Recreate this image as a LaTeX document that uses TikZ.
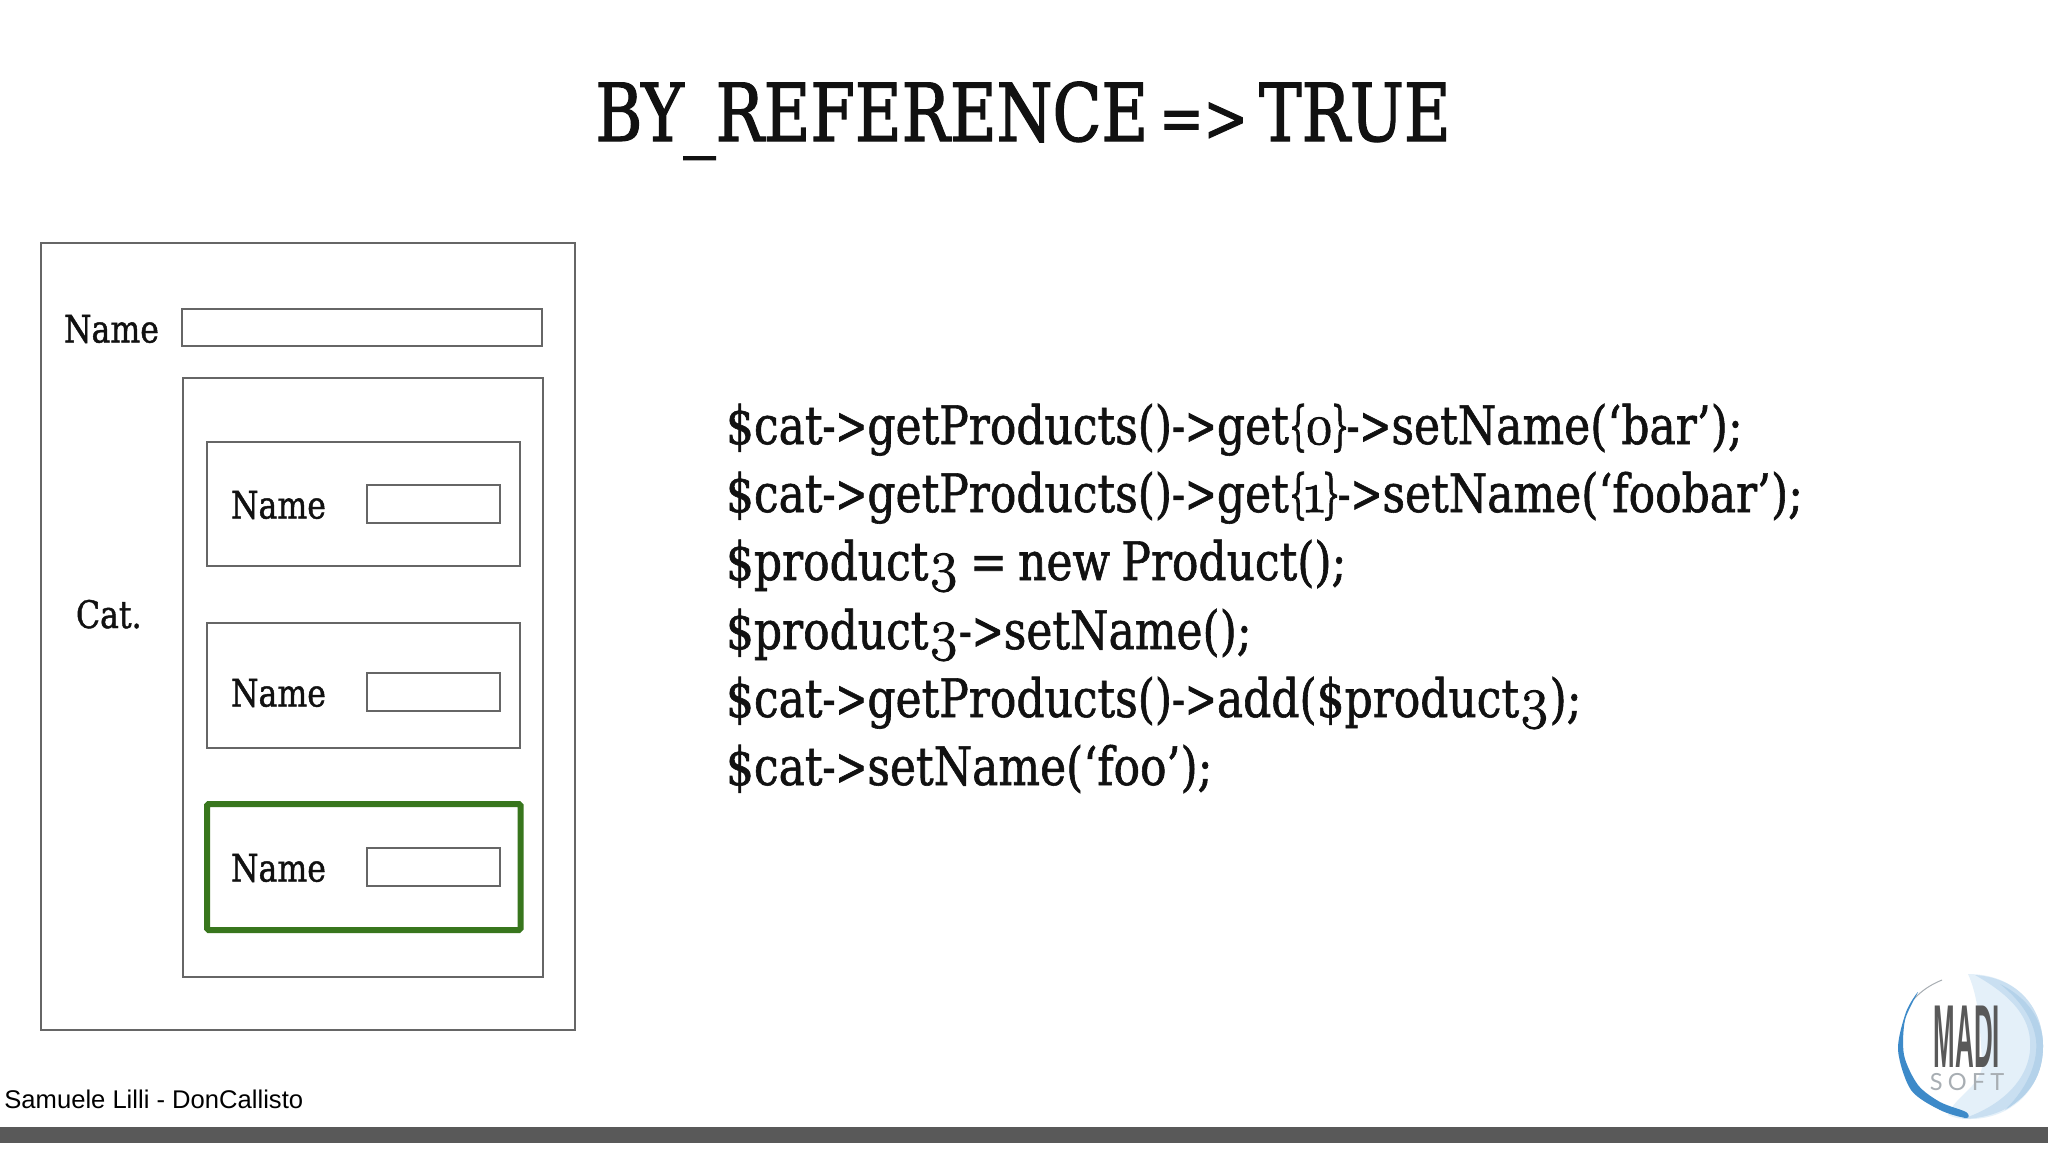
\documentclass[tikz,border=0pt]{standalone}
\usepackage{fontspec}
\setmainfont{DejaVu Serif}[FakeStretch=0.83,FakeBold=1.1,WordSpace=0.8]
\newfontfamily\titlefont{DejaVu Serif}[FakeStretch=0.8,FakeBold=1.5,WordSpace=0.55]
\newfontfamily\narrowfont{DejaVu Serif}[FakeStretch=0.55,FakeBold=1.1]
\newfontfamily\arrowfont{DejaVu Serif}[FakeStretch=0.72,FakeBold=1.1]
\newfontfamily\oldnum{Latin Modern Roman}[Numbers=OldStyle,FakeBold=2,Scale=1.08]
\newfontfamily\footfont{Liberation Sans}
\newfontfamily\logofont{Liberation Sans}
\newfontfamily\softfont{Lato}[LetterSpace=22]
\newcommand{\Lbr}{{\narrowfont\{}\kern-1.6pt}
\newcommand{\Rbr}{\kern-1.6pt{\narrowfont\}}\kern-1.4pt}
\newcommand{\Arr}{{\arrowfont->}}
\definecolor{linegray}{HTML}{666666}
\definecolor{greenbox}{HTML}{38761D}
\definecolor{barcol}{HTML}{595959}
\definecolor{inkcol}{HTML}{111111}
\definecolor{washa}{HTML}{C9DFF1}
\definecolor{washb}{HTML}{E4F0F9}
\definecolor{washc}{HTML}{B4D2EA}
\definecolor{brush}{HTML}{3D8AC9}
\definecolor{softgray}{HTML}{A8AEB3}
\tikzset{
  x=0.5pt,y=-0.5pt,
  box/.style={draw=linegray,line width=1pt,fill=none},
  greenrect/.style={draw=greenbox,line width=3pt,rounded corners=0.8pt},
  lab/.style={anchor=base west,inner sep=0pt,outer sep=0pt,text=inkcol,font=\fontsize{19}{22}\selectfont},
  codeline/.style={anchor=base west,inner sep=0pt,outer sep=0pt,text=inkcol,font=\fontsize{26.5}{30}\selectfont},
}
\begin{document}
\begin{tikzpicture}
\useasboundingbox (0,0) rectangle (2048,1152);
\fill[white] (0,0) rectangle (2048,1152);
\node[anchor=base west,inner sep=0pt,text=inkcol,font=\titlefont\fontsize{40}{46}\selectfont] (title) at (595,141) {BY\_REFERENCE {\fontsize{33}{40}\selectfont =>} TRUE};
\draw[box] (40.5,243) rectangle (575,1030);
\draw[box] (181.5,308.5) rectangle (542,346);
\draw[box] (183,377.5) rectangle (543,977);
\draw[box] (206.5,441.5) rectangle (520,566);
\draw[box] (367,484.5) rectangle (500,523);
\draw[box] (206.5,622.5) rectangle (520,748);
\draw[box] (367,672.5) rectangle (500,711);
\draw[greenrect] (207,804) rectangle (520.5,930);
\draw[box] (367,848) rectangle (500,886);
\node[lab] (n0) at (64,342.5) {Name};
\node[lab] (n1) at (231,518.5) {Name};
\node[lab] (n2) at (231,706.5) {Name};
\node[lab] (n3) at (231,881.5) {Name};
\node[lab] (cat) at (76,628) {Cat.};
\node[codeline] (c1) at (726,444) {\$cat\Arr getProducts()\Arr get\Lbr{\oldnum 0}\Rbr\Arr setName(‘bar’);};
\node[codeline] (c2) at (726,512) {\$cat\Arr getProducts()\Arr get\Lbr{\oldnum 1}\Rbr\Arr setName(‘foobar’);};
\node[codeline] (c3) at (726,580) {\$product{\oldnum 3} = new Product();};
\node[codeline] (c4) at (726,649) {\$product{\oldnum 3}\Arr setName();};
\node[codeline] (c5) at (726,717) {\$cat\Arr getProducts()\Arr add(\$product{\oldnum 3});};
\node[codeline] (c6) at (726,785) {\$cat\Arr setName(‘foo’);};
\node[anchor=base west,inner sep=0pt,text=black,font=\footfont\fontsize{12.8}{15}\selectfont] (foot) at (4,1108) {Samuele Lilli - DonCallisto};
\fill[barcol] (0,1127) rectangle (2048,1143);
% logo
\fill[washb] (1968,974) .. controls (2018,974) and (2043,1010) .. (2043,1046) .. controls (2043,1090) and (2010,1119) .. (1970,1119) .. controls (1960,1119) and (1955,1118) .. (1948,1115) .. controls (1955,1095) and (1985,1085) .. (1982,1060) .. controls (1980,1035) and (1980,1000) .. (1968,974) -- cycle;
\fill[washa] (1975,975) .. controls (2020,978) and (2043,1010) .. (2043,1046) .. controls (2043,1090) and (2010,1118) .. (1962,1119) .. controls (2005,1105) and (2033,1075) .. (2030,1040) .. controls (2028,1012) and (2005,992) .. (1975,975) -- cycle;
\fill[washc] (2000,984) .. controls (2028,998) and (2043,1020) .. (2043,1046) .. controls (2043,1075) and (2030,1095) .. (2005,1110) .. controls (2030,1085) and (2038,1060) .. (2036,1040) .. controls (2033,1018) and (2020,1000) .. (2000,984) -- cycle;
\draw[softgray,line width=0.5pt] (1942,980) .. controls (1932,984) and (1922,990) .. (1914,999);
\fill[brush] plot[smooth cycle] coordinates {(1918,992) (1906,1012) (1898,1050) (1911,1090) (1940,1110) (1966,1118) (1966,1112) (1940,1102) (1918,1085) (1904,1055) (1905,1020)};
\node[inner sep=0pt,text=barcol,font=\logofont\bfseries\fontsize{44.7}{50}\selectfont,xscale=0.29,transform shape,anchor=base] (madi) at (1967,1067) {MADI};
\node[inner sep=0pt,text=softgray,font=\softfont\fontsize{11.8}{13}\selectfont,anchor=base] (soft) at (1967,1090) {SOFT};
\end{tikzpicture}
\end{document}
